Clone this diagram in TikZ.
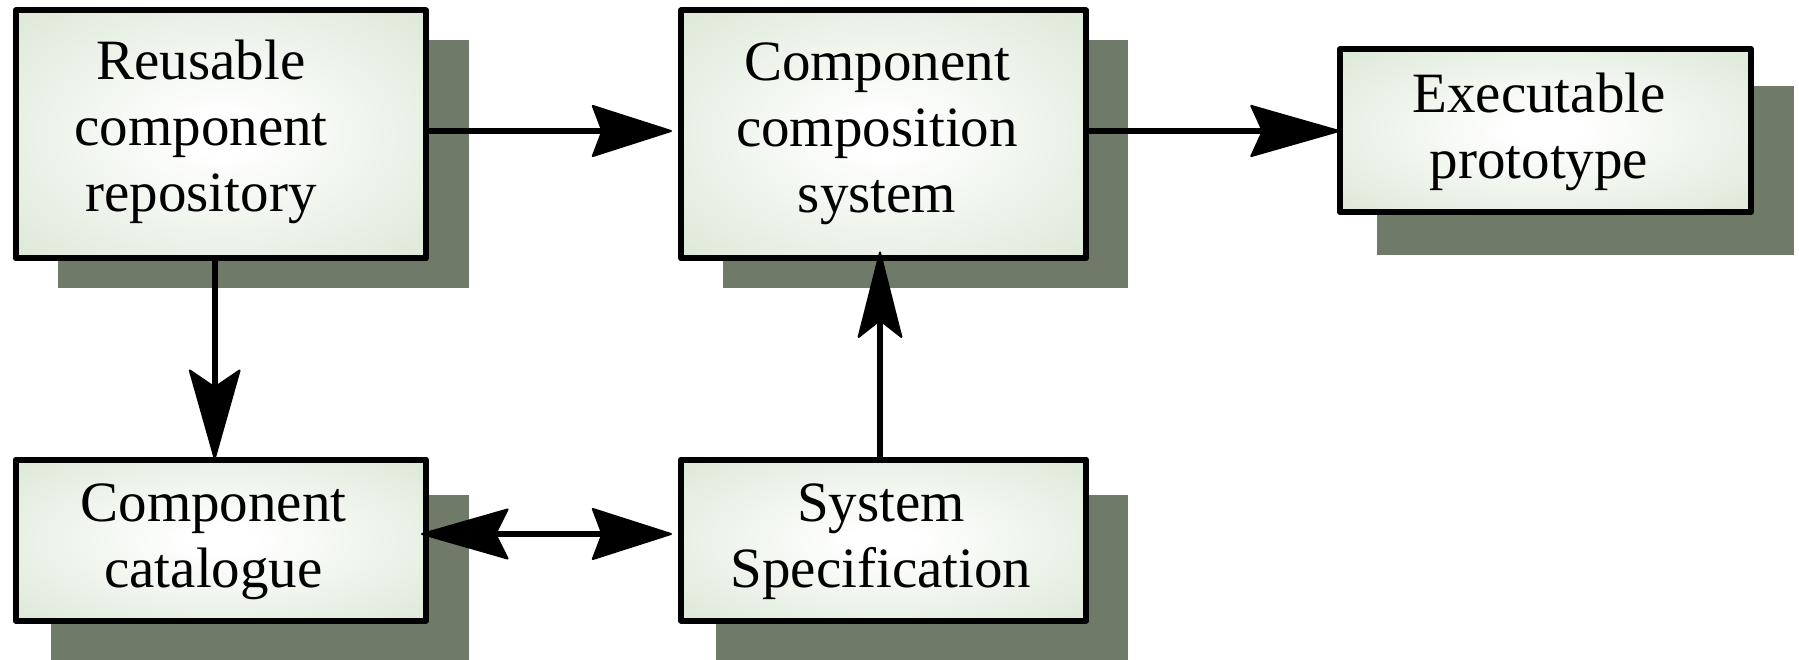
\documentclass[tikz,border=0pt]{standalone}
\usepackage{fontspec}
\setmainfont{Liberation Serif}
\usetikzlibrary{arrows.meta}
\definecolor{shadowgreen}{RGB}{111,122,104}
\definecolor{edgegreen}{RGB}{216,229,210}
\pgfdeclareradialshading{boxglow}{\pgfpointorigin}{color(0bp)=(white); color(4bp)=(white); color(40bp)=(edgegreen); color(100bp)=(edgegreen)}
\tikzset{
  x=1pt,y=-1pt,
  box/.style={draw=black,line width=6pt,line join=round,shade,shading=boxglow,
    minimum width=#1,inner sep=0pt,outer sep=0pt},
  boxtext/.style={inner sep=0pt,outer sep=0pt,align=center,font=\fontsize{57}{66}\selectfont},
  shadowbox/.style={fill=shadowgreen},
  conn/.style={line width=6pt,line cap=butt},
  headA/.tip={Stealth[length=83pt,width=53pt,inset=10pt,line width=2pt,round]},
  headB/.tip={Stealth[length=93pt,width=53pt,inset=12pt,line width=2pt,round]},
  headC/.tip={Stealth[length=94pt,width=53pt,inset=18pt,line width=2pt,round]},
  headE/.tip={Stealth[length=91pt,width=46pt,inset=18pt,line width=2pt,round]},
  headD/.tip={Stealth[length=91pt,width=52pt,inset=13pt,line width=2pt,round]},
}
\begin{document}
\begin{tikzpicture}
\useasboundingbox (0,0) rectangle (1799,660);
\fill[shadowbox] (58,40) rectangle (469,288);
\fill[shadowbox] (723,40) rectangle (1128,288);
\fill[shadowbox] (1376.5,86) rectangle (1794,255);
\fill[shadowbox] (51,495) rectangle (469,660);
\fill[shadowbox] (716,495) rectangle (1128,660);
\node[box=410.5pt,minimum height=248pt] (repo) at (220.75,134.5) {};
\node[box=405pt,minimum height=248pt] (comp) at (883.5,134.5) {};
\node[box=411pt,minimum height=163pt] (exec) at (1545.5,130.5) {};
\node[box=410.5pt,minimum height=161pt] (cat) at (220.75,540) {};
\node[box=405pt,minimum height=161pt] (spec) at (883.5,540) {};
\node[boxtext] (repotext) at (201,131.7) {Reusable\\component\\repository};
\node[boxtext] (comptext) at (877,133.5) {Component\\composition\\system};
\node[boxtext] (exectext) at (1539,132) {Executable\\prototype};
\node[boxtext] (cattext) at (213.5,541.5) {Component\\catalogue};
\node[boxtext] (spectext) at (881,541.5) {System\\Specification};
\draw[conn,-{headA}] (repo.east |- 0,131) -- ([xshift=-9pt]comp.west |- 0,131);
\draw[conn,-{headB}] (comp.east |- 0,131) -- (exec.west |- 0,131);
\draw[conn,-{headC}] (repo.south -| 214.7,0) -- (cat.north -| 214.7,0);
\draw[conn,-{headE}] (spec.north -| 880,0) -- ([yshift=7pt]comp.south -| 880,0);
\draw[conn,{headD}-{headA}] ([xshift=-5pt]cat.east |- 0,534) -- ([xshift=-9pt]spec.west |- 0,534);
\end{tikzpicture}
\end{document}
